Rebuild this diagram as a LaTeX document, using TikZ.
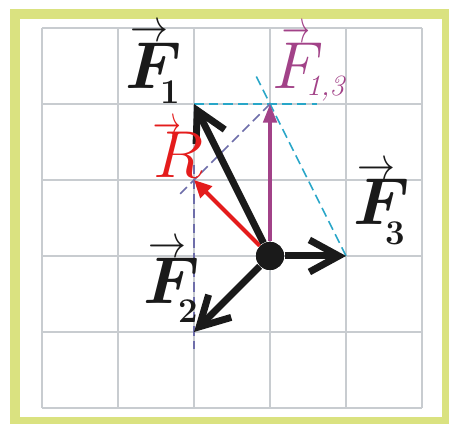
\documentclass[tikz,border=0pt]{standalone}
\usepackage{amsmath,bm,graphicx}
\usetikzlibrary{arrows.meta}
\definecolor{frameY}{RGB}{218,226,128}
\definecolor{gridC}{RGB}{200,204,208}
\definecolor{cyanD}{RGB}{40,166,200}
\definecolor{slateD}{RGB}{110,110,170}
\definecolor{purp}{RGB}{162,66,136}
\definecolor{redR}{RGB}{228,28,28}
\definecolor{blk}{RGB}{26,26,26}
\newcommand\bigF{\fontsize{23}{27}\selectfont}
\newcommand\subB{\fontsize{13}{15}\selectfont\bfseries}
\newcommand\subI{\fontsize{11}{13}\selectfont\itshape}
% #1 letter, #2 arrow x-kern, #3 arrow x-scale, #4 arrow raise, #5 sub x, #6 sub drop, #7 sub text
\newcommand\lbl[7]{\rlap{\kern#2\raisebox{#4}{\scalebox{#3}[1]{$\scriptstyle\rightarrow$}}}\rlap{\kern#5\raisebox{-#6}{#7}}#1}
\tikzset{
  force/.style={draw=blk,line width=2.6pt,-{Straight Barb[length=11pt,width=12pt]}},
  redarrow/.style={draw=redR,line width=1.5pt,-{Triangle[length=6.5pt,width=6pt]}},
  purparrow/.style={draw=purp,line width=1.4pt,-{Triangle[length=7pt,width=5pt]}},
  cyandash/.style={draw=cyanD,line width=0.6pt,dash pattern=on 3.6pt off 1.9pt},
  slatedash/.style={draw=slateD,line width=0.6pt,dash pattern=on 3.6pt off 1.9pt},
  lab/.style={anchor=base west,inner sep=0pt,font=\bigF},
}
\begin{document}
\begin{tikzpicture}
\useasboundingbox (-0.553,-0.2105) rectangle (5.355,5.368);
% frame
\fill[frameY] (-0.421,-1) rectangle (6,5.25);
\fill[white] (-0.289,-0.118) rectangle (5.263,5.118);
% grid
\draw[gridC,line width=0.8pt] (0,0) grid (5,5);
% points
\coordinate (A1) at (2,4);
\coordinate (A2) at (2,1);
\coordinate (A3) at (4,2);
\coordinate (A13) at (3,4);
\coordinate (AR) at (2,3);
\coordinate (C1) at (3.62,4);
\coordinate (C2) at (2.79,4.42);
\coordinate (S1) at (1.8,2.8);
\coordinate (V1) at (2,3.2);
\coordinate (V2) at (2,0.78);
% dashed construction lines
\draw[cyandash] (A1) -- (C1);
\draw[cyandash] (A3) -- (C2);
\draw[slatedash] (A13) -- (S1);
\draw[slatedash] (V1) -- (V2);
% dot
\node[circle,fill=blk,inner sep=0pt,minimum size=0.37cm] (O) at (3,2) {};
% vectors
\draw[purparrow] (O) -- (A13);
\draw[redarrow] (O) -- (AR);
\draw[force] (O) -- (A1);
\draw[force] (O) -- (A2);
\draw[force] (O) -- (A3);
\node[circle,fill=blk,inner sep=0pt,minimum size=0.37cm] at (O) {};
% labels
\node[lab,text=blk] (L1) at (1.09,4.21) {\lbl{$\bm F$}{2pt}{0.82}{17.5pt}{13pt}{0.2cm}{\subB 1}};
\node[lab,text=purp] (L13) at (3.03,4.21) {\lbl{$F$}{3.5pt}{0.6}{17pt}{12.5pt}{0.1cm}{\subI 1,3}};
\node[lab,text=redR] (LR) at (1.46,3.03) {\lbl{$R$}{0pt}{0.6}{15pt}{0pt}{0pt}{}};
\node[lab,text=blk] (L3) at (4.09,2.41) {\lbl{$\bm F$}{1.5pt}{0.82}{17pt}{12pt}{0.26cm}{\subB 3}};
\node[lab,text=blk] (L2) at (1.33,1.38) {\lbl{$\bm F$}{2pt}{0.82}{17pt}{13pt}{0.25cm}{\subB 2}};
\end{tikzpicture}
\end{document}
